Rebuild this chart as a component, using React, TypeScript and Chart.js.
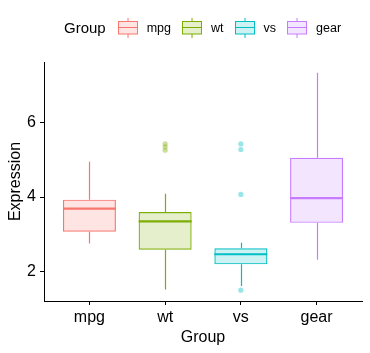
import React, { useEffect, useRef } from "react";
import { Chart, registerables } from "chart.js";

Chart.register(...registerables);

const FONT = "'Liberation Sans', Arial, Helvetica, sans-serif";

const categories = ["mpg", "wt", "vs", "gear"];
const whiskerLow = [2.76, 1.53, 1.62, 2.32];
const q1 = [3.07, 2.59, 2.2, 3.31];
const median = [3.69, 3.35, 2.47, 3.97];
const q3 = [3.93, 3.6, 2.63, 5.05];
const whiskerHigh = [4.94, 4.09, 2.78, 7.32];
const wtOutliers = [5.42, 5.34, 5.25];
const vsOutliers = [5.42, 5.27, 4.07, 1.51];
const yTicks = [2, 4, 6];

const lineColors = ["#F8766D", "#7CAE00", "#00BFC4", "#C77CFF"];
const fillColors = [
  "rgba(248,118,109,0.2)",
  "rgba(124,174,0,0.2)",
  "rgba(0,191,196,0.2)",
  "rgba(199,124,255,0.2)",
];
const outlierColors = [
  "rgba(248,118,109,0.4)",
  "rgba(124,174,0,0.4)",
  "rgba(0,191,196,0.4)",
  "rgba(199,124,255,0.4)",
];

const boxPlugin = {
  id: "boxWhiskers",
  beforeDatasetsDraw(chart: any) {
    const ctx = chart.ctx;
    const y = chart.scales.y;
    const meta = chart.getDatasetMeta(0);
    ctx.save();
    meta.data.forEach((bar: any, i: number) => {
      const x = Math.round(bar.x) + 0.5;
      ctx.strokeStyle = lineColors[i];
      ctx.lineWidth = 1.2;
      ctx.beginPath();
      ctx.moveTo(x, y.getPixelForValue(whiskerHigh[i]));
      ctx.lineTo(x, y.getPixelForValue(q3[i]));
      ctx.moveTo(x, y.getPixelForValue(q1[i]));
      ctx.lineTo(x, y.getPixelForValue(whiskerLow[i]));
      ctx.stroke();
    });
    ctx.restore();
  },
  afterDatasetsDraw(chart: any) {
    const ctx = chart.ctx;
    const y = chart.scales.y;
    const meta = chart.getDatasetMeta(0);
    ctx.save();
    meta.data.forEach((bar: any, i: number) => {
      const half = bar.width / 2;
      const py = y.getPixelForValue(median[i]);
      ctx.strokeStyle = lineColors[i];
      ctx.lineWidth = 2.1;
      ctx.beginPath();
      ctx.moveTo(bar.x - half, py);
      ctx.lineTo(bar.x + half, py);
      ctx.stroke();
    });
    ctx.restore();
  },
};

function LegendKey({ i }: { i: number }) {
  return (
    <svg width={20} height={20} style={{ display: "block" }}>
      <line x1={10} y1={0} x2={10} y2={4} stroke={lineColors[i]} strokeWidth={1} />
      <line x1={10} y1={16} x2={10} y2={20} stroke={lineColors[i]} strokeWidth={1} />
      <rect x={0.5} y={3.5} width={19} height={12.5} fill={fillColors[i]} stroke={lineColors[i]} strokeWidth={1} />
      <line x1={0.5} y1={9.5} x2={19.5} y2={9.5} stroke={lineColors[i]} strokeWidth={1} />
    </svg>
  );
}

export default function App() {
  const canvasRef = useRef<HTMLCanvasElement | null>(null);

  useEffect(() => {
    if (!canvasRef.current) return;
    const outlierData = [
      ...wtOutliers.map((v) => ({ x: 1, y: v })),
      ...vsOutliers.map((v) => ({ x: 2, y: v })),
    ];
    const outlierPointColors = [
      ...wtOutliers.map(() => outlierColors[1]),
      ...vsOutliers.map(() => outlierColors[2]),
    ];
    const tickFont = { family: FONT, size: 16 };
    const chart = new Chart(canvasRef.current, {
      type: "bar",
      data: {
        datasets: [
          {
            type: "bar",
            data: categories.map((_, i) => ({ x: i, y: [q1[i], q3[i]] })) as any,
            backgroundColor: fillColors,
            borderColor: lineColors,
            borderWidth: 1.2,
            borderSkipped: false,
            barPercentage: 0.7,
            categoryPercentage: 1,
            order: 2,
          } as any,
          {
            type: "scatter",
            data: outlierData,
            pointRadius: 2.6,
            pointBackgroundColor: outlierPointColors,
            pointBorderColor: outlierPointColors,
            pointBorderWidth: 0,
            order: 1,
          } as any,
        ],
      },
      options: {
        animation: false,
        responsive: true,
        maintainAspectRatio: false,
        events: [],
        layout: { padding: { top: 62, right: 8, left: 0, bottom: 0 } },
        plugins: { legend: { display: false }, tooltip: { enabled: false } },
        scales: {
          x: {
            type: "linear",
            min: -0.6,
            max: 3.6,
            offset: false,
            afterBuildTicks: (s: any) => {
              s.ticks = categories.map((_, i) => ({ value: i }));
            },
            afterFit: (s: any) => {
              s.height = 52;
            },
            ticks: {
              callback: (v: any) => categories[v] ?? "",
              font: tickFont,
              color: "#000",
              padding: 3,
              maxRotation: 0,
              autoSkip: false,
            },
            grid: {
              offset: false,
              drawOnChartArea: false,
              drawTicks: true,
              tickLength: 4,
              tickColor: "#000",
              tickWidth: 1,
            },
            border: { display: true, color: "#000", width: 1 },
            title: {
              display: true,
              text: "Group",
              font: tickFont,
              color: "#000",
              padding: { top: 0, bottom: 5.4 },
            },
          },
          y: {
            type: "linear",
            min: 1.22,
            max: 7.61,
            beginAtZero: false,
            afterBuildTicks: (s: any) => {
              s.ticks = yTicks.map((v) => ({ value: v }));
            },
            afterFit: (s: any) => {
              s.width = 44;
            },
            ticks: {
              font: tickFont,
              color: "#000",
              padding: 4,
              callback: (v: any) => String(v),
            },
            grid: {
              drawOnChartArea: false,
              drawTicks: true,
              tickLength: 4,
              tickColor: "#000",
              tickWidth: 1,
            },
            border: { display: true, color: "#000", width: 1 },
            title: {
              display: true,
              text: "Expression",
              font: tickFont,
              color: "#000",
              padding: { top: 6.4, bottom: 0 },
            },
          },
        },
      },
      plugins: [boxPlugin],
    } as any);
    return () => chart.destroy();
  }, []);

  return (
    <div style={{ position: "fixed", left: 0, top: 0, width: 370, height: 353, background: "#fff" }}>
      <canvas ref={canvasRef} />
      <div
        style={{
          position: "absolute",
          left: 64,
          top: 18,
          height: 20,
          display: "flex",
          alignItems: "center",
          fontFamily: FONT,
          color: "#000",
        }}
      >
        <span style={{ fontSize: 15, marginRight: 12, lineHeight: "20px" }}>Group</span>
        {categories.map((c, i) => (
          <div key={c} style={{ display: "flex", alignItems: "center" }}>
            <LegendKey i={i} />
            <span style={{ fontSize: 12.5, marginLeft: 9, marginRight: 11, lineHeight: "20px" }}>{c}</span>
          </div>
        ))}
      </div>
    </div>
  );
}
